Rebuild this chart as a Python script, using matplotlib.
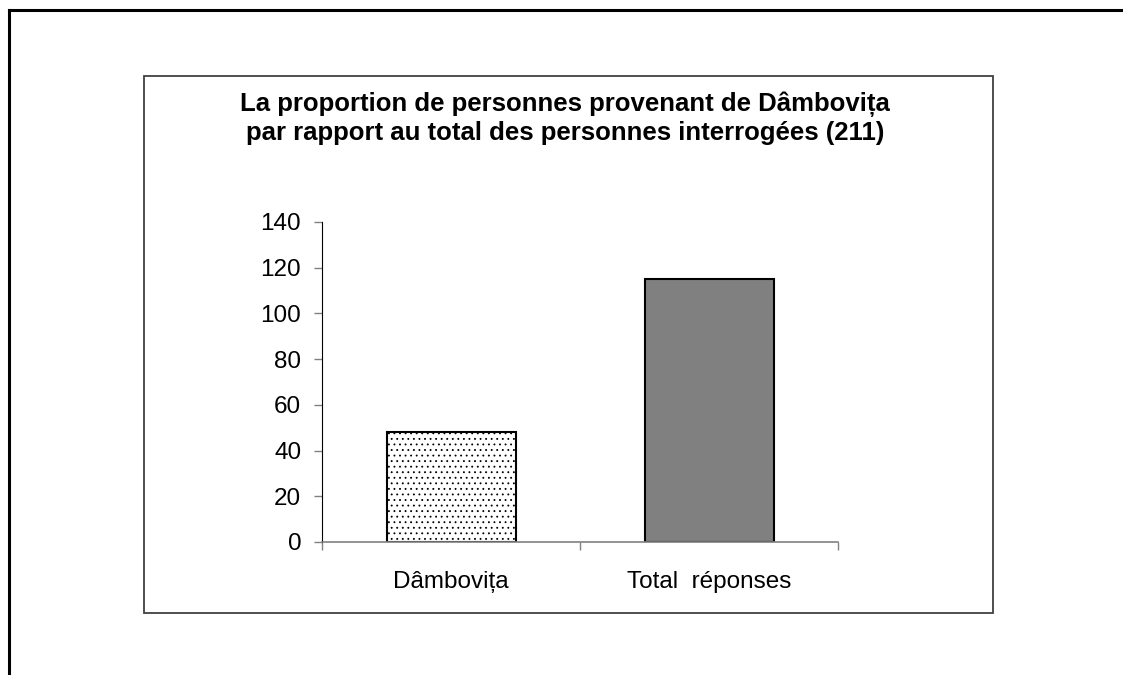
import matplotlib
matplotlib.use("Agg")
import matplotlib.pyplot as plt
from matplotlib.lines import Line2D
from matplotlib.patches import Rectangle

plt.rcParams['font.family'] = ['Liberation Sans', 'DejaVu Sans']
plt.rcParams['hatch.linewidth'] = 0.6

# donnees
categories = ['Dâmbovița', 'Total  réponses']
valeurs = [48, 115]
yticks = [0, 20, 40, 60, 80, 100, 120, 140]
titre = ('La proportion de personnes provenant de Dâmbovița\n'
         'par rapport au total des personnes interrogées (211)')

W, H = 1123, 675
fig = plt.figure(figsize=(W / 100, H / 100), dpi=100)

# cadre exterieur (haut + gauche)
fig.add_artist(Line2D([9 / W, 1], [1 - 10 / H, 1 - 10 / H], color='black', lw=2.2))
fig.add_artist(Line2D([9 / W, 9 / W], [0, 1 - 10 / H], color='black', lw=2.2))
# cadre du graphique
fig.add_artist(Rectangle((144 / W, 1 - 613 / H), (993 - 144) / W, (613 - 76) / H,
                         fill=False, edgecolor='#404040', lw=1.3))

ax = fig.add_axes([322 / W, 1 - 542 / H, (838 - 322) / W, (542 - 222) / H])
barres = ax.bar(range(len(valeurs)), valeurs, width=0.5,
                color=['white', '#808080'], edgecolor='black', linewidth=1.5)
barres[0].set_hatch('...')

ax.set_xlim(-0.5, 1.5)
ax.set_ylim(0, 140)
ax.set_yticks(yticks)
ax.tick_params(axis='y', length=6, width=1, color='#808080', pad=9, labelsize=17.5)

ax.set_xticks([0, 1])
ax.set_xticklabels(categories, fontsize=17.5)
ax.tick_params(axis='x', which='major', length=0, pad=21)
ax.set_xticks([-0.5, 0.5, 1.5], minor=True)
ax.tick_params(axis='x', which='minor', length=6, width=1, color='#808080')

for s in ['top', 'right']:
    ax.spines[s].set_visible(False)
ax.spines['left'].set_color('black')
ax.spines['bottom'].set_color('#808080')
ax.spines['bottom'].set_linewidth(1.2)

fig.text(565 / W, 1 - 118 / H, titre, ha='center', va='center',
         fontsize=18.5, fontweight='bold', linespacing=1.2)

fig.savefig('out.png', dpi=100)
